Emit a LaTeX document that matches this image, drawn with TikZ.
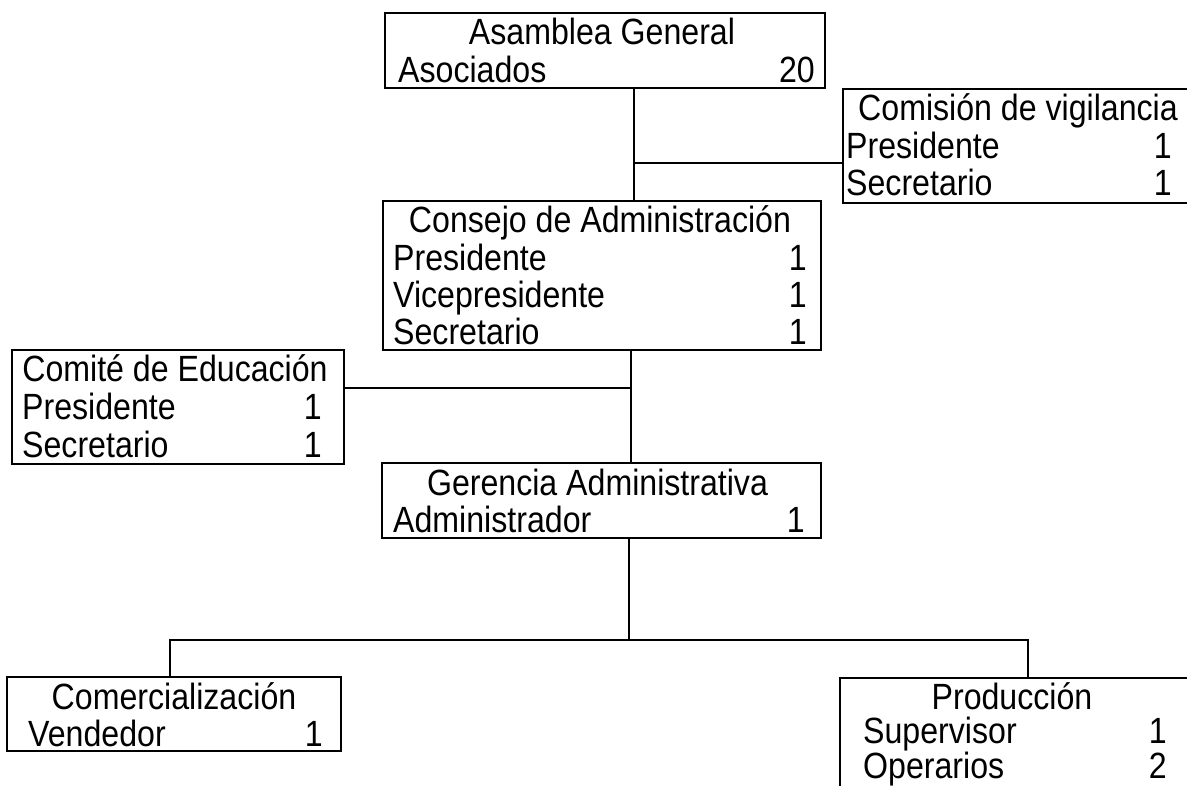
\documentclass[tikz,border=0pt]{standalone}
\usepackage{fontspec}
\setmainfont{Liberation Sans}[FakeStretch=0.88]
\begin{document}
\begin{tikzpicture}[x=1pt,y=1pt,
  orgbox/.style={draw=black, line width=1.4pt, rectangle, anchor=north west, inner sep=0pt, outer sep=0pt},
  conn/.style={draw=black, line width=1.3pt},
  txt/.style={inner sep=0pt, font=\fontsize{36.5}{37.5}\selectfont}
]
\clip (0,0) rectangle (1187,-786);
\fill[white] (0,0) rectangle (1187,-786);

% boxes: left, top, width, height
\node[orgbox, minimum width=440, minimum height=75] (asm) at (385,-13) {};
\node[orgbox, minimum width=348, minimum height=114] (com) at (843,-89) {};
\node[orgbox, minimum width=438, minimum height=149] (con) at (383,-201) {};
\node[orgbox, minimum width=332, minimum height=114] (cte) at (12,-350) {};
\node[orgbox, minimum width=439, minimum height=75] (ger) at (382,-463) {};
\node[orgbox, minimum width=334, minimum height=74] (cmz) at (7,-677) {};
\node[orgbox, minimum width=350, minimum height=114] (prd) at (840,-678) {};

% Asamblea General
\node[txt, anchor=base] (asmT) at ([xshift=-3pt,yshift=-32pt]asm.north) {Asamblea General};
\node[txt, anchor=base west] (asmA) at ([xshift=13pt,yshift=-69.5pt]asm.north west) {Asociados};
\node[txt, anchor=base east] (asmN) at ([xshift=-10pt,yshift=-69.5pt]asm.north east) {20};

% Comisión de vigilancia
\node[txt, anchor=base] (comT) at ([xshift=1pt,yshift=-32pt]com.north) {Comisión de vigilancia};
\node[txt, anchor=base west] (comP) at ([xshift=3pt,yshift=-69.5pt]com.north west) {Presidente};
\node[txt, anchor=base east] (comPn) at ([xshift=-19pt,yshift=-69.5pt]com.north east) {1};
\node[txt, anchor=base west] (comS) at ([xshift=3pt,yshift=-107pt]com.north west) {Secretario};
\node[txt, anchor=base east] (comSn) at ([xshift=-19pt,yshift=-107pt]com.north east) {1};

% Consejo de Administración
\node[txt, anchor=base] (conT) at ([xshift=-2pt,yshift=-32pt]con.north) {Consejo de Administración};
\node[txt, anchor=base west] (conP) at ([xshift=10pt,yshift=-69.5pt]con.north west) {Presidente};
\node[txt, anchor=base east] (conPn) at ([xshift=-14pt,yshift=-69.5pt]con.north east) {1};
\node[txt, anchor=base west] (conV) at ([xshift=10pt,yshift=-107pt]con.north west) {Vicepresidente};
\node[txt, anchor=base east] (conVn) at ([xshift=-14pt,yshift=-107pt]con.north east) {1};
\node[txt, anchor=base west] (conS) at ([xshift=10pt,yshift=-144pt]con.north west) {Secretario};
\node[txt, anchor=base east] (conSn) at ([xshift=-14pt,yshift=-144pt]con.north east) {1};

% Comité de Educación
\node[txt, anchor=base] (cteT) at ([xshift=-3pt,yshift=-32pt]cte.north) {Comité de Educación};
\node[txt, anchor=base west] (cteP) at ([xshift=10pt,yshift=-69.5pt]cte.north west) {Presidente};
\node[txt, anchor=base east] (ctePn) at ([xshift=-22pt,yshift=-69.5pt]cte.north east) {1};
\node[txt, anchor=base west] (cteS) at ([xshift=10pt,yshift=-107pt]cte.north west) {Secretario};
\node[txt, anchor=base east] (cteSn) at ([xshift=-22pt,yshift=-107pt]cte.north east) {1};

% Gerencia Administrativa
\node[txt, anchor=base] (gerT) at ([xshift=-4pt,yshift=-32pt]ger.north) {Gerencia Administrativa};
\node[txt, anchor=base west] (gerA) at ([xshift=11pt,yshift=-69.5pt]ger.north west) {Administrador};
\node[txt, anchor=base east] (gerAn) at ([xshift=-16pt,yshift=-69.5pt]ger.north east) {1};

% Comercialización
\node[txt, anchor=base] (cmzT) at ([xshift=0pt,yshift=-32pt]cmz.north) {Comercialización};
\node[txt, anchor=base west] (cmzV) at ([xshift=21pt,yshift=-69.5pt]cmz.north west) {Vendedor};
\node[txt, anchor=base east] (cmzVn) at ([xshift=-18pt,yshift=-69.5pt]cmz.north east) {1};

% Producción
\node[txt, anchor=base] (prdT) at ([xshift=-3pt,yshift=-31pt]prd.north) {Producción};
\node[txt, anchor=base west] (prdS) at ([xshift=23pt,yshift=-65pt]prd.north west) {Supervisor};
\node[txt, anchor=base east] (prdSn) at ([xshift=-23pt,yshift=-65pt]prd.north east) {1};
\node[txt, anchor=base west] (prdO) at ([xshift=23pt,yshift=-100pt]prd.north west) {Operarios};
\node[txt, anchor=base east] (prdOn) at ([xshift=-23pt,yshift=-100pt]prd.north east) {2};

% junctions
\coordinate (j1) at (634,-163);
\coordinate (j2) at (631,-388);
\coordinate (j3) at (629,-640);
\coordinate (j4) at (170,-640);
\coordinate (j5) at (1028,-640);

% connectors
\draw[conn] (asm.south -| j1) -- (con.north -| j1);
\draw[conn] (j1) -- (j1 -| com.west);
\draw[conn] (con.south -| j2) -- (ger.north -| j2);
\draw[conn] (cte.east |- j2) -- (j2);
\draw[conn] (ger.south -| j3) -- (j3);
\draw[conn] (cmz.north -| j4) -- (j4) -- (j5) -- (prd.north -| j5);
\end{tikzpicture}
\end{document}
